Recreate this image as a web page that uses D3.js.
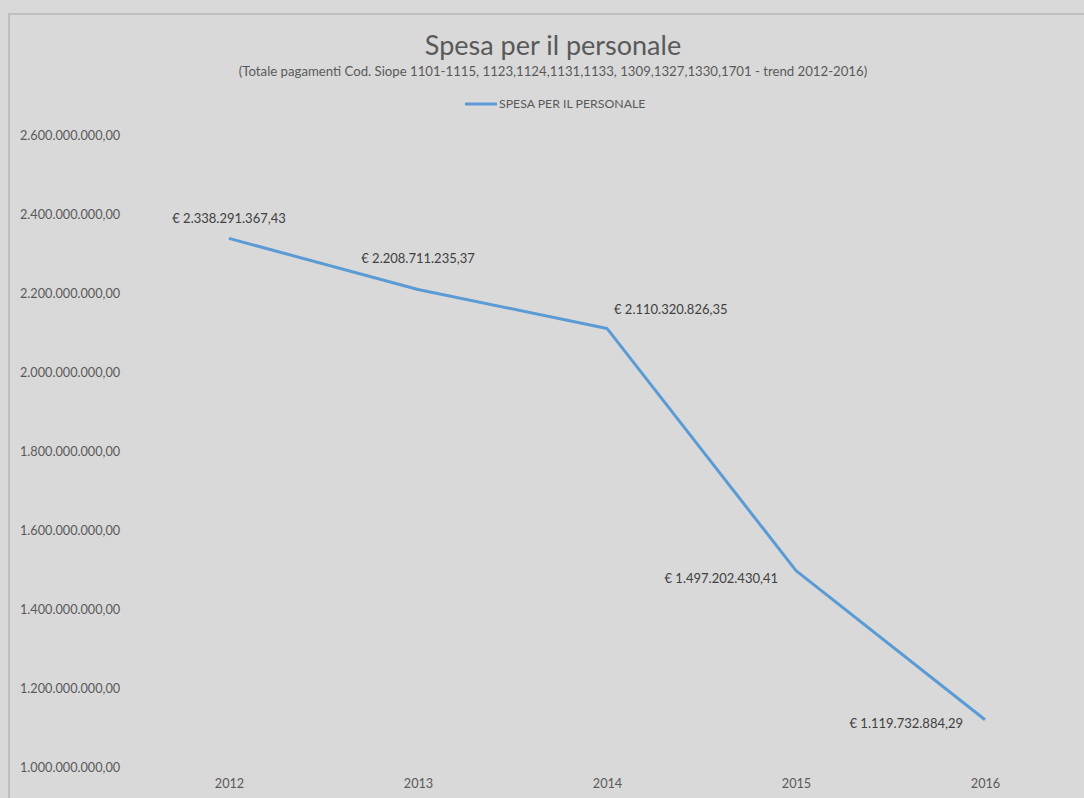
<!doctype html>
<html lang="it">
<head>
  <meta charset="utf-8">
  <style>
    body { margin: 0; background: #d9d9d9; }
    svg text { font-family: Lato, "Liberation Sans", sans-serif; }
  </style>
</head>
<body>
  <script src="https://d3js.org/d3.v7.min.js"></script>
  <div id="chart"></div>
  <script>
    // Data
    var years = ["2012", "2013", "2014", "2015", "2016"];
    var spesa = [2338291367.43, 2208711235.37, 2110320826.35, 1497202430.41, 1119732884.29];
    var yTicks = [1000000000, 1200000000, 1400000000, 1600000000, 1800000000, 2000000000, 2200000000, 2400000000, 2600000000];
    var seriesName = "SPESA PER IL PERSONALE";

    // label placement: [dx, dy, anchor]
    var labelPos = [[0, -20, "middle"], [0, -31, "middle"], [7, -19, "start"], [-18, 8, "end"], [-22, 4, "end"]];

    var width = 1084, height = 798;
    var it = d3.formatLocale({decimal: ",", thousands: ".", grouping: [3], currency: ["€ ", ""]});
    var fmtAxis = it.format(",.2f");
    var fmtLabel = it.format("$,.2f");

    var svg = d3.select("#chart").append("svg")
                .attr("width", width)
                .attr("height", height);

    // frame
    svg.append("path")
       .attr("d", "M9,798V14H1084")
       .attr("fill", "none")
       .attr("stroke", "#bfbfbf")
       .attr("stroke-width", 2);

    // titles
    svg.append("text")
       .attr("x", 553).attr("y", 55)
       .attr("text-anchor", "middle")
       .attr("font-size", 27)
       .attr("fill", "#595959")
       .text("Spesa per il personale");
    svg.append("text")
       .attr("x", 553).attr("y", 76)
       .attr("text-anchor", "middle")
       .attr("font-size", 13.2)
       .attr("fill", "#595959")
       .text("(Totale pagamenti Cod. Siope 1101-1115, 1123,1124,1131,1133, 1309,1327,1330,1701  -  trend 2012-2016)");

    // legend
    svg.append("line")
       .attr("x1", 465).attr("x2", 497).attr("y1", 104).attr("y2", 104)
       .attr("stroke", "#5b9bd5").attr("stroke-width", 3);
    svg.append("text")
       .attr("x", 499).attr("y", 108)
       .attr("font-size", 12.3)
       .attr("fill", "#595959")
       .text(seriesName);

    // scales
    var x = d3.scalePoint().domain(years).range([134.5, 1079.5]).padding(0.5);
    var y = d3.scaleLinear().domain([1000000000, 2600000000]).range([767, 135]);

    // y axis
    var yAxis = svg.append("g")
                   .attr("transform", "translate(20,0)")
                   .call(d3.axisRight(y).tickValues(yTicks).tickFormat(fmtAxis).tickSize(0));
    yAxis.select(".domain").remove();
    yAxis.selectAll("text")
         .attr("x", 0)
         .attr("font-size", 12.7)
         .attr("font-family", "Lato, sans-serif")
         .attr("fill", "#595959");

    // x axis
    var xAxis = svg.append("g")
                   .attr("transform", "translate(0,779)")
                   .call(d3.axisBottom(x).tickSize(0));
    xAxis.select(".domain").remove();
    xAxis.selectAll("text")
         .attr("y", 0)
         .attr("dy", "0.71em")
         .attr("font-size", 12.7)
         .attr("font-family", "Lato, sans-serif")
         .attr("fill", "#595959");

    // line
    var line = d3.line()
                 .x(function(d, i) { return x(years[i]); })
                 .y(function(d) { return y(d); });
    svg.append("path")
       .datum(spesa)
       .attr("d", line)
       .attr("fill", "none")
       .attr("stroke", "#5b9bd5")
       .attr("stroke-width", 3)
       .attr("stroke-linejoin", "round");

    // data labels
    svg.append("g").selectAll("text").data(spesa).enter()
       .append("text")
       .attr("x", function(d, i) { return x(years[i]) + labelPos[i][0]; })
       .attr("y", function(d, i) { return y(d) + labelPos[i][1]; })
       .attr("dy", "0.35em")
       .attr("text-anchor", function(d, i) { return labelPos[i][2]; })
       .attr("font-size", 13)
       .attr("fill", "#404040")
       .text(function(d) { return fmtLabel(d); });
  </script>
</body>
</html>
